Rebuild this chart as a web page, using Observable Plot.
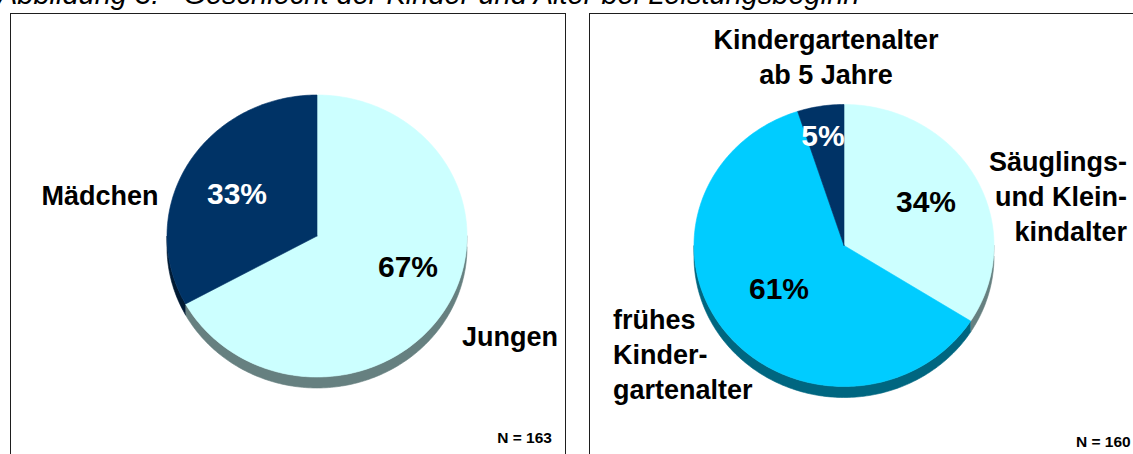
<!DOCTYPE html>
<html>
<head>
<meta charset="utf-8">
<script src="https://cdn.jsdelivr.net/npm/d3@7"></script>
<script src="https://cdn.jsdelivr.net/npm/@observablehq/plot@0.6"></script>
<style>
  html, body { margin: 0; padding: 0; background: #fff; }
  body { width: 1133px; height: 454px; overflow: hidden; position: relative; font-family: "Liberation Sans", Arial, sans-serif; }
  #title { position: absolute; left: -2px; top: -20px; font-size: 29px; line-height: 29px; font-style: italic; white-space: pre; color: #000; }
  .panel { position: absolute; top: 13px; height: 470px; border: 1.5px solid #1e1e1e; box-sizing: border-box; background: #fff; }
  .panel svg { position: absolute; left: 0; top: 0; background: transparent; }
</style>
</head>
<body>
<div id="title">Abbildung 3:   Geschlecht der Kinder und Alter bei Leistungsbeginn</div>
<div class="panel" id="left" style="left:10px; width:556px;"></div>
<div class="panel" id="right" style="left:589px; width:560px;"></div>
<script>
// ---------- data ----------
const genderCategories = ["Jungen", "Mädchen"];
const genderLabels = ["Jungen", "Mädchen"];
const genderValues = [67, 33];
const genderN = 163;

const ageCategories = ["Säuglings- und Kleinkindalter", "frühes Kindergartenalter", "Kindergartenalter ab 5 Jahre"];
const ageLabels = ["Säuglings-\nund Klein-\nkindalter", "frühes\nKinder-\ngartenalter", "Kindergartenalter\nab 5 Jahre"];
const ageValues = [34, 61, 5];
const ageN = 160;

// ---------- styles / layout ----------
const genderColors = ["#CCFFFF", "#003366"];
const ageColors = ["#CCFFFF", "#00CCFF", "#003366"];
const pctColors = {"#CCFFFF": "#000", "#00CCFF": "#000", "#003366": "#fff"};
const FONT = "Liberation Sans, Arial, sans-serif";

const layoutLeft = {
  width: 553, height: 450, cx: 305.5, cy: 221.5, rx: 150, ry: 141, depth: 11,
  catPos: [{dx: 193, dy: 99, anchor: "middle"}, {dx: -217, dy: -42, anchor: "middle"}],
  pctPos: [{dx: 91, dy: 31}, {dx: -80, dy: -42}],
  nPos: {px: 540.5, py: 424, anchor: "end"}
};
const layoutRight = {
  width: 557, height: 450, cx: 253.5, cy: 231, rx: 150, ry: 141, depth: 11,
  catPos: [{dx: 283, dy: -51, anchor: "end"}, {dx: -231, dy: 107.5, anchor: "start"}, {dx: -18, dy: -190, anchor: "middle"}],
  pctPos: [{dx: 82, dy: -43.5}, {dx: -65, dy: 43.5}, {dx: -21, dy: -109.5}],
  nPos: {px: 485.5, py: 428, anchor: "start"}
};

function arcPts(a0, a1, drop = 0) {
  const n = Math.max(2, Math.ceil(Math.abs(a1 - a0)));
  return d3.range(n + 1).map(k => {
    const t = (a0 + (a1 - a0) * k / n) * Math.PI / 180;
    return {x: Math.sin(t), y: Math.cos(t) - drop};
  });
}

function drawPie(el, values, labels, colors, n, L) {
  const total = d3.sum(values);
  let acc = 0;
  const slices = values.map((v, i) => {
    const a0 = acc, a1 = acc + v / total * 360; acc = a1;
    return {i, v, a0, a1, color: colors[i], side: d3.interpolateRgb(colors[i], "#000")(0.5)};
  });
  const drop = L.depth / L.ry;
  const marks = [];
  // sides (3D rim)
  for (const s of slices) {
    const lo = Math.max(s.a0, 90), hi = Math.min(s.a1, 270);
    if (lo < hi) {
      const pts = [...arcPts(lo, hi), ...arcPts(hi, lo, drop)];
      marks.push(Plot.line(pts, {x: "x", y: "y", fill: s.side, stroke: s.side, strokeWidth: 0.6}));
    }
  }
  // faces
  for (const s of slices) {
    const pts = [{x: 0, y: 0}, ...arcPts(s.a0, s.a1), {x: 0, y: 0}];
    marks.push(Plot.line(pts, {x: "x", y: "y", fill: s.color, stroke: s.color, strokeWidth: 0.6}));
  }
  const toU = (dx, dy) => ({x: dx / L.rx, y: -dy / L.ry});
  // percentage labels
  slices.forEach((s, i) => {
    const p = toU(L.pctPos[i].dx, L.pctPos[i].dy);
    marks.push(Plot.text([{...p, t: Math.round(s.v) + "%"}], {
      x: "x", y: "y", text: "t", fontSize: 30, fontWeight: "bold", fontFamily: FONT,
      fill: pctColors[s.color], textAnchor: "middle", lineAnchor: "middle"
    }));
  });
  // category labels
  labels.forEach((lab, i) => {
    const c = L.catPos[i];
    const p = toU(c.dx, c.dy);
    marks.push(Plot.text([{...p, t: lab}], {
      x: "x", y: "y", text: "t", fontSize: 27, fontWeight: "bold", fontFamily: FONT,
      fill: "#000", textAnchor: c.anchor, lineAnchor: "middle", lineHeight: 1.3
    }));
  });
  // N label
  const np = toU(L.nPos.px - L.cx, L.nPos.py - L.cy);
  marks.push(Plot.text([{...np, t: "N = " + n}], {
    x: "x", y: "y", text: "t", fontSize: 15.5, fontWeight: "bold", fontFamily: FONT,
    fill: "#000", textAnchor: L.nPos.anchor, lineAnchor: "middle"
  }));

  const chart = Plot.plot({
    width: L.width, height: L.height,
    margin: 0,
    style: {background: "transparent", overflow: "visible"},
    x: {domain: [-1, 1], range: [L.cx - L.rx, L.cx + L.rx], axis: null},
    y: {domain: [-1, 1], range: [L.cy + L.ry, L.cy - L.ry], axis: null},
    marks
  });
  el.appendChild(chart);
}

drawPie(document.getElementById("left"), genderValues, genderLabels, genderColors, genderN, layoutLeft);
drawPie(document.getElementById("right"), ageValues, ageLabels, ageColors, ageN, layoutRight);
</script>
</body>
</html>
